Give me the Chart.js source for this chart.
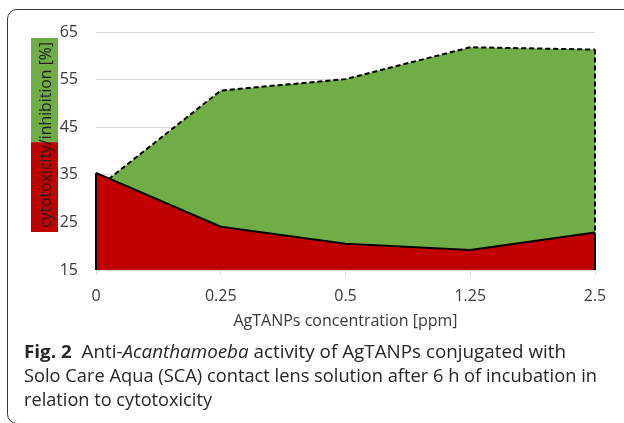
<!DOCTYPE html>
<html>
<head>
<meta charset="utf-8">
<script src="https://cdn.jsdelivr.net/npm/chart.js@4.4.1/dist/chart.umd.min.js"></script>
<style>
html,body{margin:0;padding:0;background:#fff;}
body{width:624px;height:423px;position:relative;overflow:hidden;}
#frame{position:absolute;left:7px;top:9px;width:700px;height:415px;border:1px solid #3c3c3c;border-radius:10px;box-sizing:border-box;}
#chartBox{position:absolute;left:0;top:0;width:624px;height:340px;}
#caption{position:absolute;left:24px;top:339px;font-family:'Open Sans',sans-serif;font-size:18px;line-height:24px;color:#262626;}
.line{white-space:nowrap;height:24px;}
.line span.in{display:inline-block;transform-origin:0 50%;}
</style>
</head>
<body>
<div id="frame"></div>
<div id="chartBox"><canvas id="c" width="624" height="340"></canvas></div>
<div id="caption">
  <div class="line"><span class="in" data-w="542"><b>Fig. 2</b>&nbsp; Anti-<i>Acanthamoeba</i> activity of AgTANPs conjugated with</span></div>
  <div class="line"><span class="in" data-w="573">Solo Care Aqua (SCA) contact lens solution after 6 h of incubation in</span></div>
  <div class="line"><span class="in" data-w="188">relation to cytotoxicity</span></div>
</div>
<script>
// ---- data ----
const categories = ['0', '0.25', '0.5', '1.25', '2.5'];
const cytotoxicity = [35.4, 24.1, 20.5, 19.2, 22.9];
const inhibition = [32.0, 52.7, 55.1, 61.8, 61.3];
const yTicks = [15, 25, 35, 45, 55, 65];
const xTitle = 'AgTANPs concentration [ppm]';
const yTitleParts = ['cytotoxicity', '/', 'inhibition [%]'];

// fit caption lines
document.querySelectorAll('#caption span.in').forEach(s => {
  const w = s.getBoundingClientRect().width;
  const t = parseFloat(s.dataset.w);
  s.style.transform = 'scaleX(' + (t / w) + ')';
});

const FONT = "'Open Sans', sans-serif";

const edgePlugin = {
  id: 'edges',
  afterDatasetDraw(chart, args) {
    const ctx = chart.ctx;
    const pts = args.meta.data;
    const ds = chart.data.datasets[args.index];
    const bottom = chart.chartArea.bottom;
    const first = pts[0], last = pts[pts.length - 1];
    ctx.save();
    ctx.strokeStyle = '#000';
    ctx.lineWidth = ds.borderWidth;
    ctx.setLineDash(ds.borderDash || []);
    ctx.beginPath();
    if (args.index === 0) { ctx.moveTo(first.x, first.y); ctx.lineTo(first.x, bottom); }
    ctx.moveTo(last.x, last.y); ctx.lineTo(last.x, bottom);
    ctx.stroke();
    ctx.restore();
  }
};

const yTitlePlugin = {
  id: 'yTitle',
  afterDraw(chart) {
    const ctx = chart.ctx;
    ctx.save();
    const full = yTitleParts.join('');
    ctx.font = "17px " + FONT;
    const w = ctx.measureText(full).width;
    const w1 = ctx.measureText(yTitleParts[0]).width;
    const ws = ctx.measureText(yTitleParts[1]).width;
    const target = 186;
    const sx = target / w;
    const cx = 46, cy = 135;
    const bottomY = cy + target / 2, topY = cy - target / 2;
    const splitY = bottomY - (w1 + ws / 2) * sx;
    const boxL = 31, boxR = 58;
    ctx.fillStyle = '#C00000';
    ctx.fillRect(boxL, splitY, boxR - boxL, bottomY + 4 - splitY);
    ctx.fillStyle = '#70AD47';
    ctx.fillRect(boxL, topY - 4, boxR - boxL, splitY - (topY - 4));
    ctx.translate(cx, cy);
    ctx.rotate(-Math.PI / 2);
    ctx.scale(sx, 1);
    ctx.fillStyle = '#1e1e1e';
    ctx.textAlign = 'center';
    ctx.textBaseline = 'middle';
    ctx.fillText(full, 0, 0);
    ctx.restore();
  }
};

new Chart(document.getElementById('c'), {
  type: 'line',
  data: {
    labels: categories,
    datasets: [
      {
        label: 'cytotoxicity',
        data: cytotoxicity,
        borderColor: '#000',
        borderWidth: 2,
        backgroundColor: '#C00000',
        fill: 'start',
        pointRadius: 0,
        tension: 0
      },
      {
        label: 'inhibition',
        data: inhibition,
        borderColor: '#000',
        borderWidth: 2,
        borderDash: [5, 3],
        backgroundColor: '#70AD47',
        fill: 'start',
        pointRadius: 0,
        tension: 0
      }
    ]
  },
  options: {
    responsive: false,
    animation: false,
    devicePixelRatio: 1,
    layout: { padding: { left: 0, right: 29, top: 32, bottom: 0 } },
    plugins: { legend: { display: false }, tooltip: { enabled: false } },
    scales: {
      x: {
        type: 'category',
        offset: false,
        afterFit: s => { s.height = 70; },
        grid: { display: true, drawOnChartArea: false, drawTicks: true, tickLength: 5, color: '#d9d9d9' },
        border: { display: true, color: '#d9d9d9' },
        ticks: { color: '#3a3a3a', font: { family: FONT, size: 16 }, padding: 12, maxRotation: 0 },
        title: { display: true, text: xTitle, color: '#3a3a3a', font: { family: FONT, size: 16 }, padding: { top: 10, bottom: 9 } }
      },
      y: {
        min: 15,
        max: 65,
        afterFit: s => { s.width = 96; },
        afterBuildTicks: s => { s.ticks = yTicks.map(v => ({ value: v })); },
        grid: { color: '#d9d9d9', drawTicks: false },
        border: { display: false },
        ticks: { color: '#3a3a3a', font: { family: FONT, size: 16 }, padding: 18 }
      }
    }
  },
  plugins: [edgePlugin, yTitlePlugin]
});
</script>
</body>
</html>
